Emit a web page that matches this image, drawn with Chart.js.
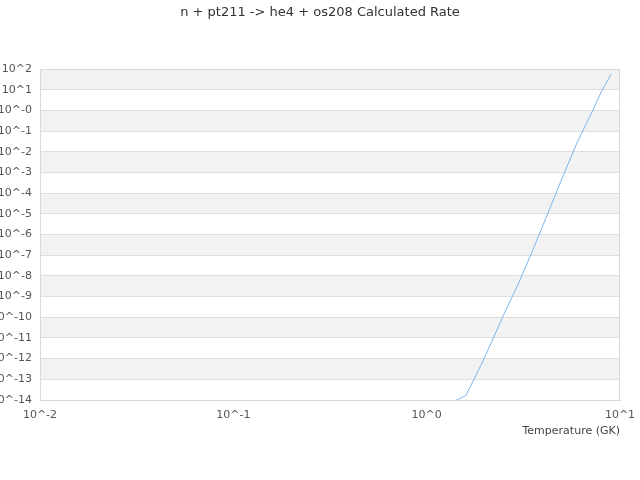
<!DOCTYPE html>
<html>
<head>
<meta charset="utf-8">
<script src="https://cdn.jsdelivr.net/npm/chart.js@4"></script>
<style>
  html, body { margin: 0; padding: 0; background: #fff; }
  #wrap { width: 640px; height: 480px; }
</style>
</head>
<body>
<div id="wrap"><canvas id="rate"></canvas></div>
<script>
// Temperatura (GK) e taxa calculada
const temperaturas = [1.3, 1.6, 1.8, 2, 2.5, 3, 3.5, 4, 5, 6, 7, 8, 9];
const taxas = [6.3e-15, 1.7e-14, 1.6e-13, 1.2e-12, 1.3e-10, 4.8e-9, 1.4e-7, 2.9e-6, 4.9e-4, 2.8e-2, 5.4e-1, 7.8, 58];

// Marcas dos eixos
const xTicks = [1e-2, 1e-1, 1e0, 1e1];
const xTickLabels = ['10^-2', '10^-1', '10^0', '10^1'];
const yTicks = [1e-14, 1e-13, 1e-12, 1e-11, 1e-10, 1e-9, 1e-8, 1e-7, 1e-6, 1e-5, 1e-4, 1e-3, 1e-2, 1e-1, 1e0, 1e1, 1e2];
const yTickLabels = ['10^-14', '10^-13', '10^-12', '10^-11', '10^-10', '10^-9', '10^-8', '10^-7', '10^-6', '10^-5', '10^-4', '10^-3', '10^-2', '10^-1', '10^-0', '10^1', '10^2'];

const pontos = temperaturas.map((t, i) => ({ x: t, y: taxas[i] }));

// Faixas alternadas no fundo + moldura
const faixas = {
  id: 'faixas',
  beforeDraw(chart) {
    const { ctx, chartArea, scales: { y } } = chart;
    ctx.save();
    ctx.fillStyle = '#f2f2f2';
    for (let i = yTicks.length - 1; i > 0; i -= 2) {
      const top = y.getPixelForValue(yTicks[i]);
      const bot = y.getPixelForValue(yTicks[i - 1]);
      ctx.fillRect(chartArea.left, top, chartArea.right - chartArea.left, bot - top);
    }
    ctx.restore();
  },
  beforeDatasetsDraw(chart) {
    const { ctx, chartArea } = chart;
    ctx.save();
    ctx.strokeStyle = '#dadada';
    ctx.lineWidth = 1;
    ctx.strokeRect(chartArea.left + 0.5, chartArea.top + 0.5, chartArea.right - chartArea.left - 1, chartArea.bottom - chartArea.top);
    ctx.restore();
  }
};

Chart.defaults.font.family = 'DejaVu Sans';
Chart.defaults.color = '#555';

new Chart(document.getElementById('rate'), {
  type: 'line',
  data: {
    datasets: [{
      data: pontos,
      borderColor: '#7cb5ec',
      borderWidth: 1,
      pointRadius: 0,
      tension: 0,
      fill: false
    }]
  },
  options: {
    responsive: true,
    maintainAspectRatio: false,
    animation: false,
    layout: { padding: { left: 0, right: 0, top: 0, bottom: 42 } },
    plugins: {
      legend: { display: false },
      tooltip: { enabled: false },
      title: {
        display: true,
        text: 'n + pt211 -> he4 + os208 Calculated Rate',
        color: '#333',
        font: { size: 13, weight: 'normal' },
        padding: { top: 5, bottom: 48.5 }
      }
    },
    scales: {
      x: {
        type: 'logarithmic',
        min: 1e-2,
        max: 1e1,
        afterBuildTicks: s => { s.ticks = xTicks.map(v => ({ value: v })); },
        afterFit: s => { s.height = 38; s.paddingRight = 20; },
        ticks: {
          autoSkip: false,
          maxRotation: 0,
          padding: 9,
          font: { size: 11 },
          callback: (v, i) => xTickLabels[i]
        },
        grid: { display: false, drawTicks: false },
        border: { color: '#d8d8d8' },
        title: {
          display: true,
          text: 'Temperature (GK)',
          align: 'end',
          color: '#444',
          font: { size: 11 },
          padding: { top: 0, bottom: 0 }
        }
      },
      y: {
        type: 'logarithmic',
        min: 1e-14,
        max: 1e2,
        afterBuildTicks: s => { s.ticks = yTicks.map(v => ({ value: v })); },
        afterFit: s => { s.width = 40; },
        ticks: {
          autoSkip: false,
          padding: 8,
          font: { size: 11 },
          callback: (v, i) => yTickLabels[i]
        },
        grid: { color: '#dedede', drawTicks: false },
        border: { display: false }
      }
    }
  },
  plugins: [faixas]
});
</script>
</body>
</html>
